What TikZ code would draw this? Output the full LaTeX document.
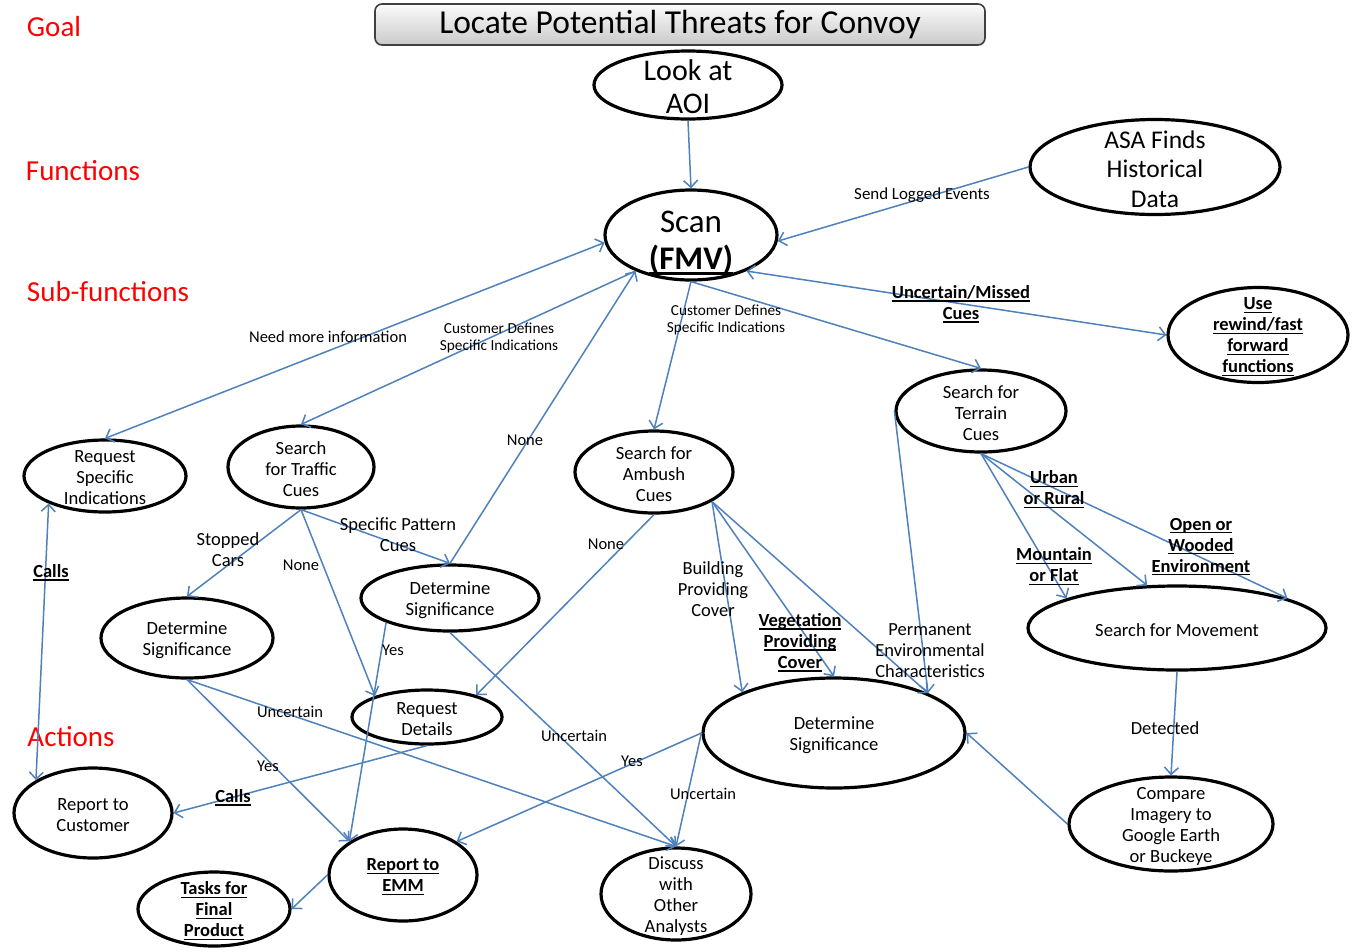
\documentclass[tikz,border=0pt]{standalone}
\usepackage{fontspec}
\setmainfont{Carlito}
\usetikzlibrary{shapes.geometric,arrows.meta}
\definecolor{ln}{RGB}{79,129,189}
\newsavebox\ulbx
\newcommand\ulx[1]{\sbox\ulbx{#1}\rlap{\rule[-0.17em]{\wd\ulbx}{0.085em}}\usebox\ulbx}
\begin{document}
\begin{tikzpicture}[x=1pt,y=-1pt,
  >={Straight Barb[length=7pt,width=14pt]},
  el/.style={ellipse, draw=black, line width=3.2pt, inner sep=0pt},
  nt/.style={font=\fontsize{18.6}{21}\selectfont, align=center, yshift=-2pt},
  ntb/.style={font=\fontsize{18.5}{21}\selectfont\bfseries, align=center, yshift=-2pt},
  lab/.style={font=\fontsize{18.5}{21}\selectfont, align=center, inner sep=0pt, yshift=-1.5pt},
  labm/.style={font=\fontsize{16.5}{21}\selectfont, align=center, inner sep=0pt, yshift=-1.5pt},
  labs/.style={font=\fontsize{15.3}{17}\selectfont, align=center, inner sep=0pt, yshift=-1.5pt},
  labb/.style={font=\fontsize{18.5}{21}\selectfont\bfseries, align=center, inner sep=0pt, yshift=-1.5pt},
  sect/.style={font=\fontsize{29}{32}\selectfont, text=red, inner sep=0pt},
  conn/.style={draw=ln, line width=1.5pt, ->},
  titlebox/.style={rectangle, rounded corners=7pt, draw=black!75, line width=1.6pt,
     top color=gray!3, bottom color=gray!42, minimum width=610pt, minimum height=41pt,
     inner sep=0pt, font=\fontsize{33.5}{36}\selectfont}
]
\fill[white] (0,0) rectangle (1356,951);
\useasboundingbox (0,0) rectangle (1356,951);

% section labels
\node[sect] (sgoal) at (54,27) {Goal};
\node[sect] (sfun) at (83,171) {Functions};
\node[sect] (ssub) at (108,292) {Sub-functions};
\node[sect] (sact) at (71,737) {Actions};

% title
\node[titlebox] (title) at (680,24.5) {\raisebox{-2pt}{Locate Potential Threats for Convoy}};

% nodes
\node[el, minimum width=188pt, minimum height=68pt,
  label={[nt,font=\fontsize{30}{33}\selectfont]center:Look at\\AOI}] (aoi) at (688,85) {};
\node[el, minimum width=172pt, minimum height=90pt,
  label={[nt,font=\fontsize{33}{37}\selectfont,yshift=-6pt]center:Scan\\\ulx{\textbf{(FMV)}}}] (scan) at (691,235) {};
\node[el, minimum width=250pt, minimum height=95pt,
  label={[nt,font=\fontsize{25.5}{29.5}\selectfont]center:ASA Finds\\Historical\\Data}] (asa) at (1155,167) {};
\node[el, minimum width=180pt, minimum height=95pt,
  label={[ntb]center:\ulx{Use}\\\ulx{rewind/fast}\\\ulx{forward}\\\ulx{functions}}] (rewind) at (1258,335) {};
\node[el, minimum width=162pt, minimum height=72pt,
  label={[nt]center:Request\\Specific\\Indications}] (reqspec) at (105,476) {};
\node[el, minimum width=146pt, minimum height=82pt,
  label={[nt]center:Search\\for Traffic\\Cues}] (traffic) at (301,467) {};
\node[el, minimum width=158pt, minimum height=82pt,
  label={[nt]center:Search for\\Ambush\\Cues}] (ambush) at (654,472) {};
\node[el, minimum width=170pt, minimum height=82pt,
  label={[nt]center:Search for\\Terrain\\Cues}] (terrain) at (981,411) {};
\node[el, minimum width=172pt, minimum height=80pt,
  label={[nt]center:Determine\\Significance}] (detsig1) at (187,638) {};
\node[el, minimum width=178pt, minimum height=66pt,
  label={[nt]center:Determine\\Significance}] (detsig2) at (450,598) {};
\node[el, minimum width=150pt, minimum height=54pt,
  label={[nt]center:Request\\Details}] (reqdet) at (427,717) {};
\node[el, minimum width=298pt, minimum height=84pt,
  label={[nt]center:Search for Movement}] (movement) at (1177,628) {};
\node[el, minimum width=262pt, minimum height=110pt,
  label={[nt]center:Determine\\Significance}] (detsig3) at (834,733) {};
\node[el, minimum width=158pt, minimum height=90pt,
  label={[nt]center:Report to\\Customer}] (reportcust) at (93,813) {};
\node[el, minimum width=148pt, minimum height=92pt,
  label={[ntb]center:\ulx{Report to}\\\ulx{EMM}}] (emm) at (403,875) {};
\node[el, minimum width=152pt, minimum height=74pt,
  label={[ntb]center:\ulx{Tasks for}\\\ulx{Final}\\\ulx{Product}}] (tasks) at (214,909) {};
\node[el, minimum width=150pt, minimum height=92pt,
  label={[nt]center:Discuss\\with\\Other\\Analysts}] (discuss) at (676,894) {};
\node[el, minimum width=204pt, minimum height=94pt,
  label={[nt]center:Compare\\Imagery to\\Google Earth\\or Buckeye}] (compare) at (1171,824) {};

% connectors
\draw[conn] (aoi.south) -- (scan.north);
\draw[conn] (asa.west) -- (scan.-4);
\draw[conn,<->] (rewind.west) -- (scan.-33);
\draw[conn] (scan.south) -- (terrain.north);
\draw[conn] (scan.south) -- (ambush.north);
\draw[conn,<->] (scan.185) -- (reqspec.north);
\draw[conn] (scan.213) -- (traffic.north);
\draw[conn] (detsig2.north) -- (scan.213);
\draw[conn] (terrain.west) -- (detsig3.23);
\draw[conn] (ambush.-27) -- (detsig3.156);
\draw[conn] (ambush.-27) -- (detsig3.north);
\draw[conn] (ambush.-27) -- (detsig3.23);
\draw[conn] (ambush.south) -- (reqdet.24);
\draw[conn] (terrain.south) -- (movement.165);
\draw[conn] (terrain.south) -- (movement.125);
\draw[conn] (terrain.south) -- (movement.15);
\draw[conn] (movement.south) -- (compare.north);
\draw[conn] (compare.west) -- (detsig3.east);
\draw[conn] (traffic.south) -- (detsig1.north);
\draw[conn] (traffic.south) -- (reqdet.158);
\draw[conn] (traffic.south) -- (detsig2.north);
\draw[conn] (detsig2.201) -- (emm.148);
\draw[conn] (detsig2.south) -- (discuss.north);
\draw[conn] (detsig1.south) -- (emm.148);
\draw[conn] (detsig1.south) -- (discuss.north);
\draw[conn] (reqdet.south) -- (reportcust.east);
\draw[conn] (detsig3.west) -- (emm.32);
\draw[conn] (detsig3.west) -- (discuss.north);
\draw[conn,<->] (reqspec.206) -- (reportcust.150);
\draw[conn] (emm.west) -- (tasks.east);

% connector labels
\node[lab,font=\fontsize{16.9}{21}\selectfont] (lsend) at (922,194) {Send Logged Events};
\node[labb] (lunc) at (961,303) {\ulx{Uncertain/Missed}\\\ulx{Cues}};
\node[labs] (lcust1) at (726,318) {Customer Defines\\Specific Indications};
\node[labm] (lneed) at (328,335) {Need more information};
\node[labs] (lcust2) at (499,336) {Customer Defines\\Specific Indications};
\node[labm] (lnone1) at (525,439) {None};
\node[lab] (lstop) at (228,548) {Stopped\\Cars};
\node[labm] (lnone2) at (301,564) {None};
\node[lab] (lspec) at (398,533) {Specific Pattern\\Cues};
\node[labm] (lnone3) at (606,543) {None};
\node[lab] (lbuild) at (713,588) {Building\\Providing\\Cover};
\node[labb] (lveg) at (800,641) {\ulx{Vegetation}\\\ulx{Providing}\\\ulx{Cover}};
\node[lab] (lperm) at (930,649) {Permanent\\Environmental\\Characteristics};
\node[labb] (lurban) at (1054,488) {\ulx{Urban}\\\ulx{or Rural}};
\node[labb] (lmount) at (1054,565) {\ulx{Mountain}\\\ulx{or Flat}};
\node[labb] (lopen) at (1201,545) {\ulx{Open or}\\\ulx{Wooded}\\\ulx{Environment}};
\node[lab] (ldet) at (1165,727) {Detected};
\node[labm] (lyes1) at (393,649) {Yes};
\node[labm] (lunc1) at (290,710) {Uncertain};
\node[labm] (lunc2) at (574,734) {Uncertain};
\node[labm] (lyes2) at (268,765) {Yes};
\node[labb] (lcalls1) at (233,796) {\ulx{Calls}};
\node[labm] (lyes3) at (632,760) {Yes};
\node[labm] (lunc3) at (703,792) {Uncertain};
\node[labb] (lcalls2) at (51,571) {\ulx{Calls}};
\end{tikzpicture}
\end{document}
